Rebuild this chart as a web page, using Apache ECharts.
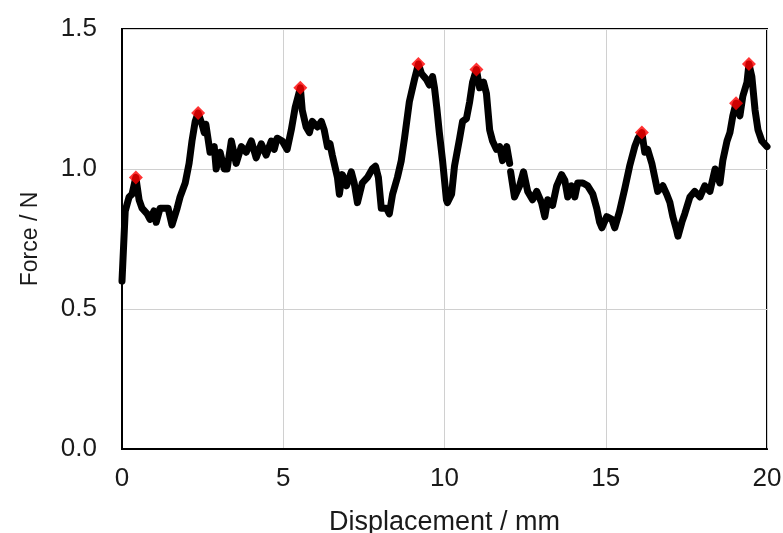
<!DOCTYPE html>
<html>
<head>
<meta charset="utf-8">
<script src="https://cdn.jsdelivr.net/npm/echarts@6/dist/echarts.min.js"></script>
<style>
  html, body { margin: 0; padding: 0; background: #fff; }
  #chart { width: 783px; height: 533px; }
</style>
</head>
<body>
<div id="chart"></div>
<script>
// displacement (mm) and force (N)
const disp = [
  0, 0.1, 0.22, 0.31, 0.43, 0.53, 0.62, 0.78, 0.87, 0.99, 1.06, 1.18, 1.3, 1.43, 1.55,
  1.71, 1.8, 1.96, 2.08, 2.17, 2.27, 2.36, 2.48, 2.55, 2.6, 2.73, 2.86, 2.92, 3.04, 3.17,
  3.26, 3.39, 3.54, 3.7, 3.85, 4.01, 4.16, 4.32, 4.47, 4.63, 4.72, 4.81, 4.97, 5.12, 5.25,
  5.37, 5.53, 5.59, 5.71, 5.81, 5.9, 6.06, 6.18, 6.27, 6.37, 6.45, 6.52, 6.58, 6.68, 6.74,
  6.83, 6.96, 7.11, 7.2, 7.3, 7.45, 7.61, 7.76, 7.86, 7.95, 8.04, 8.2, 8.29, 8.39, 8.54,
  8.66, 8.76, 8.91, 9.07, 9.19, 9.29, 9.44, 9.53, 9.63, 9.69, 9.76, 9.84, 9.94, 10.06, 10.09,
  10.22, 10.31, 10.47, 10.56, 10.68, 10.78, 10.87, 10.99, 11.09, 11.21, 11.3, 11.4, 11.49, 11.61, 11.71,
  11.8, 11.93, 12.02, 12.03, 12.05, 12.17, 12.33, 12.45, 12.58, 12.73, 12.86, 13.01, 13.11, 13.2, 13.35,
  13.48, 13.63, 13.73, 13.82, 13.94, 14.04, 14.13, 14.29, 14.44, 14.6, 14.72, 14.81, 14.88, 15.03, 15.19,
  15.28, 15.43, 15.59, 15.74, 15.9, 16.0, 16.12, 16.21, 16.3, 16.43, 16.52, 16.61, 16.77, 16.89, 16.99,
  17.08, 17.2, 17.24, 17.36, 17.45, 17.61, 17.76, 17.92, 18.07, 18.23, 18.39, 18.54, 18.63, 18.76, 18.85,
  18.94, 19.04, 19.16, 19.25, 19.38, 19.44, 19.53, 19.63, 19.72, 19.84, 20.0
];
const force = [
  0.6, 0.85, 0.9, 0.91, 0.97, 0.89, 0.86, 0.84, 0.82, 0.85, 0.81, 0.86, 0.86, 0.86, 0.8,
  0.86, 0.9, 0.95, 1.02, 1.1, 1.17, 1.2, 1.16, 1.13, 1.16, 1.06, 1.08, 1.0, 1.06, 1.0,
  1.0, 1.1, 1.02, 1.08, 1.06, 1.1, 1.04, 1.09, 1.05, 1.1, 1.07, 1.11, 1.1, 1.07, 1.14,
  1.22, 1.29, 1.21, 1.15, 1.13, 1.17, 1.15, 1.17, 1.14, 1.08, 1.09, 1.05, 1.02, 0.97, 0.91,
  0.98, 0.94, 0.99, 0.95, 0.88, 0.95, 0.97, 1.0, 1.01, 0.97, 0.86, 0.86, 0.84, 0.91, 0.97,
  1.03, 1.11, 1.24, 1.32, 1.375, 1.34, 1.32, 1.3, 1.33, 1.29, 1.22, 1.13, 1.03, 0.89, 0.88,
  0.91, 1.01, 1.11, 1.17, 1.18, 1.24, 1.31, 1.355, 1.29, 1.31, 1.27, 1.14, 1.1, 1.07, 1.08,
  1.03, 1.08, 1.02, '-', 0.99, 0.9, 0.94, 0.99, 0.92, 0.89, 0.92, 0.88, 0.83, 0.89, 0.87,
  0.94, 0.98, 0.96, 0.9, 0.94, 0.9, 0.95, 0.95, 0.94, 0.91, 0.86, 0.81, 0.79, 0.83, 0.82,
  0.79, 0.85, 0.93, 1.01, 1.08, 1.11, 1.13, 1.06, 1.07, 1.02, 0.97, 0.92, 0.94, 0.91, 0.88,
  0.83, 0.78, 0.76, 0.81, 0.84, 0.9, 0.92, 0.9, 0.94, 0.92, 1.0, 0.95, 1.03, 1.1, 1.13,
  1.19, 1.235, 1.19, 1.26, 1.31, 1.375, 1.33, 1.21, 1.14, 1.1, 1.08
];
// marked peaks
const peakDisp = [0.43, 2.36, 5.53, 9.19, 10.99, 16.12, 19.04, 19.44];
const peakForce = [0.97, 1.2, 1.29, 1.375, 1.355, 1.13, 1.235, 1.375];

const font = "'Liberation Sans', Arial, sans-serif";
const chart = echarts.init(document.getElementById("chart"));
chart.setOption({
  animation: false,
  grid: {
    left: 122, right: 16, top: 29, bottom: 84,
    outerBoundsMode: "none",
    show: true, borderColor: "#000", borderWidth: 2,
  },
  xAxis: {
    type: "value",
    min: 0, max: 20, interval: 5,
    name: "Displacement / mm",
    nameLocation: "middle",
    nameGap: 60,
    nameTextStyle: { fontFamily: font, fontSize: 27, color: "#1a1a1a" },
    axisLine: { lineStyle: { color: "#000", width: 2 } },
    axisTick: { show: false },
    axisLabel: { fontFamily: font, fontSize: 26, color: "#1a1a1a", margin: 17 },
    splitLine: { lineStyle: { color: "#d0d0d0", width: 1 } },
  },
  yAxis: {
    type: "value",
    min: 0, max: 1.5, interval: 0.5,
    name: "Force / N",
    nameLocation: "middle",
    nameGap: 80,
    nameTextStyle: { fontFamily: font, fontSize: 23, color: "#1a1a1a" },
    axisLine: { show: true, lineStyle: { color: "#000", width: 2 } },
    axisTick: { show: false },
    axisLabel: {
      fontFamily: font, fontSize: 26, color: "#1a1a1a", margin: 25,
      formatter: (v) => v.toFixed(1),
    },
    splitLine: { lineStyle: { color: "#d0d0d0", width: 1 } },
  },
  series: [
    {
      type: "line",
      name: "Force",
      data: disp.map((d, i) => [d, force[i]]),
      showSymbol: false,
      lineStyle: { color: "#000", width: 7, join: "round", cap: "round" },
    },
    {
      type: "scatter",
      name: "Peaks",
      data: peakDisp.map((d, i) => [d, peakForce[i]]),
      symbol: "diamond",
      symbolSize: 14,
      itemStyle: { color: "#ff0000" },
      z: 5,
    },
  ],
});
</script>
</body>
</html>
